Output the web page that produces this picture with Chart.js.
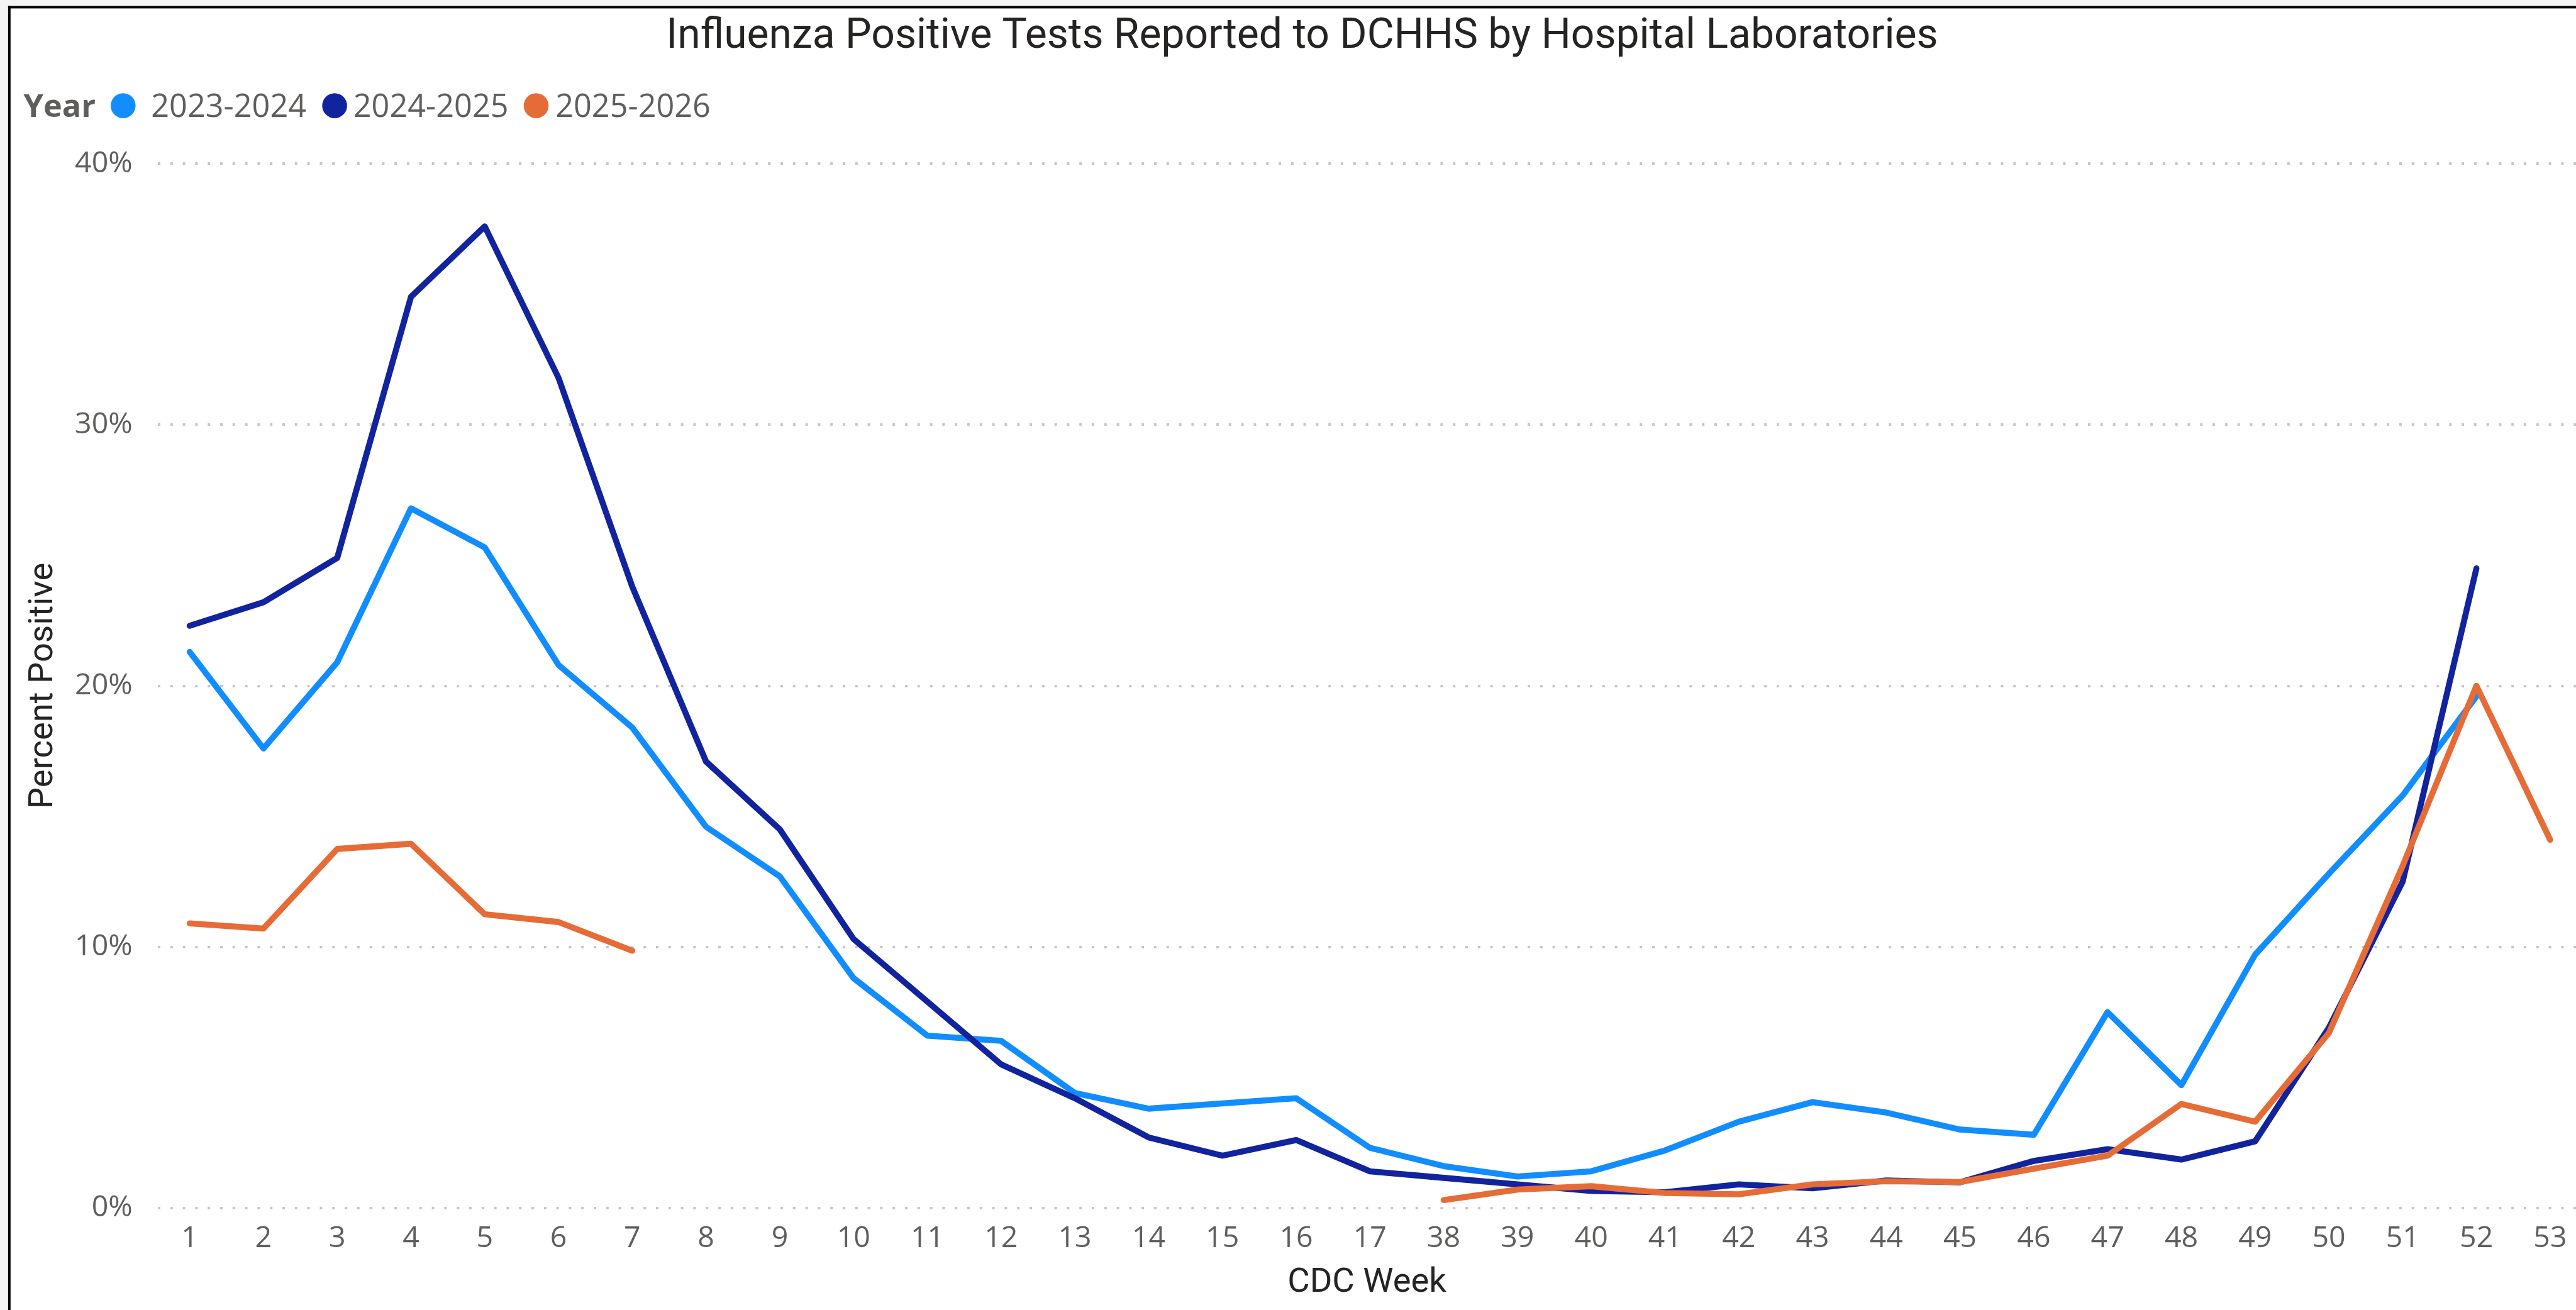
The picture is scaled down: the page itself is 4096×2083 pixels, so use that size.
<!DOCTYPE html>
<html>
<head>
<meta charset="utf-8">
<title>Influenza Positive Tests</title>
<script src="https://cdn.jsdelivr.net/npm/chart.js@4.4.1/dist/chart.umd.min.js"></script>
<style>
    html, body { margin: 0; padding: 0; background: #ffffff; overflow: hidden; }
    #wrap { width: 4096px; height: 2083px; }
</style>
</head>
<body>
<div id="wrap"><canvas id="flu_chart" width="4096" height="2083"></canvas></div>
<script>
// CDC weeks shown on the x axis (18-37 are not in the report)
const weeks = [
    "1", "2", "3", "4", "5", "6", "7", "8", "9", "10", "11", "12", "13", "14", "15", "16", "17",
    "38", "39", "40", "41", "42", "43", "44", "45", "46", "47", "48", "49", "50", "51", "52", "53"
];

// percent positive per season, one value per week above (null = no data)
const season_2023_2024 = [
    21.3, 17.6, 20.9, 26.8, 25.3, 20.8, 18.4, 14.6, 12.7, 8.8, 6.6, 6.4, 4.4, 3.8, 4.0, 4.2, 2.3,
    1.6, 1.2, 1.4, 2.2, 3.3, 4.05, 3.65, 3.0, 2.8, 7.5, 4.7, 9.7, 12.8, 15.8, 19.6, null
];
const season_2024_2025 = [
    22.3, 23.2, 24.9, 34.9, 37.6, 31.8, 23.8, 17.1, 14.5, 10.3, 7.9, 5.5, 4.2, 2.7, 2.0, 2.6, 1.4,
    1.15, 0.9, 0.65, 0.6, 0.9, 0.75, 1.05, 0.98, 1.8, 2.25, 1.85, 2.55, 6.9, 12.5, 24.5, null
];
const season_2025_2026 = [
    10.9, 10.7, 13.75, 13.95, 11.25, 10.95, 9.85, null, null, null, null, null, null, null, null, null, null,
    0.3, 0.7, 0.83, 0.57, 0.52, 0.9, 1.02, 0.99, 1.5, 2.0, 3.98, 3.3, 6.7, 13.1, 20.0, 14.1
];

const season_names = ["2023-2024", "2024-2025", "2025-2026"];
const season_colors = ["#118DFF", "#12239E", "#E66C37"];
const season_values = [season_2023_2024, season_2024_2025, season_2025_2026];

const ui_font = "'Segoe UI', 'Open Sans', sans-serif";
const title_font = "Roboto, 'Segoe UI', sans-serif";

function $$(x) {
    return document.getElementById(x);
}

// border, title and the "Year" legend are drawn by hand (Power BI look)
const frame_plugin = {
    id: "frame",
    beforeDraw(chart) {
        const ctx = chart.ctx;
        ctx.save();
        ctx.fillStyle = "#F4F4F4";
        ctx.fillRect(0, 0, chart.width, chart.height);
        ctx.fillStyle = "#FFFFFF";
        ctx.fillRect(16.8, 13.4, chart.width, chart.height);
        ctx.fillStyle = "#000000";
        ctx.fillRect(12.9, 9.4, 3.9, chart.height);
        ctx.fillRect(12.9, 9.4, chart.width, 4);
        ctx.restore();
    },
    afterDraw(chart) {
        const ctx = chart.ctx;
        ctx.save();
        ctx.fillStyle = "#252423";
        ctx.font = "normal 66px " + title_font;
        ctx.textAlign = "center";
        ctx.textBaseline = "alphabetic";
        ctx.fillText("Influenza Positive Tests Reported to DCHHS by Hospital Laboratories", 2070.5, 76.4);

        // legend
        const base_y = 185.9;
        ctx.textAlign = "left";
        ctx.fillStyle = "#605E5C";
        ctx.font = "bold 50.4px " + ui_font;
        ctx.fillText("Year", 37.6, base_y);
        const dot_x = [195.8, 532.1, 852.5];
        const text_x = [240.3, 561.8, 883.2];
        ctx.font = "normal 50.4px " + ui_font;
        chart.data.datasets.forEach((ds, i) => {
            ctx.fillStyle = ds.borderColor;
            ctx.beginPath();
            ctx.arc(dot_x[i], 168.1, 19.8, 0, Math.PI * 2);
            ctx.fill();
            ctx.fillStyle = "#605E5C";
            ctx.fillText(ds.label, text_x[i], base_y);
        });
        ctx.restore();
    }
};

const datasets = season_names.map((name, s) => ({
    label: name,
    data: weeks.map((_, i) => ({ x: i, y: season_values[s][i] })),
    borderColor: season_colors[s],
    backgroundColor: season_colors[s],
    borderWidth: 9.6,
    borderCapStyle: "round",
    borderJoinStyle: "round",
    pointRadius: 0,
    tension: 0,
    spanGaps: false,
    order: 3 - s, // orange on top, light blue at the bottom
}));

Chart.defaults.devicePixelRatio = 1;

const flu_chart = new Chart($$("flu_chart").getContext("2d"), {
    type: "line",
    data: { datasets: datasets },
    options: {
        responsive: false,
        animation: false,
        devicePixelRatio: 1,
        layout: { padding: { top: 260.4, left: 0, right: 0, bottom: 0 } },
        plugins: {
            legend: { display: false },
            title: { display: false },
            tooltip: { enabled: false },
        },
        scales: {
            x: {
                type: "linear",
                min: -0.4297,
                max: 32.35,
                afterBuildTicks: (scale) => {
                    scale.ticks = weeks.map((_, i) => ({ value: i }));
                },
                afterFit: (scale) => {
                    scale.height = 162.4;
                },
                grid: { display: false },
                border: { display: false },
                ticks: {
                    autoSkip: false,
                    maxRotation: 0,
                    minRotation: 0,
                    padding: 13,
                    color: "#605E5C",
                    font: { family: ui_font, size: 46.5, lineHeight: 1.2 },
                    callback: (v) => weeks[v],
                },
                title: {
                    display: true,
                    text: "CDC Week",
                    color: "#252423",
                    font: { family: title_font, size: 54.4, lineHeight: 1.2 },
                    padding: { top: 0, bottom: 10.4 },
                },
            },
            y: {
                min: 0,
                max: 40,
                afterFit: (scale) => {
                    scale.width = 251.2;
                },
                grid: { color: "#C8C6C4", lineWidth: 4, drawTicks: false },
                border: { display: false, dash: [4, 15.8] },
                ticks: {
                    stepSize: 10,
                    padding: 40.5,
                    color: "#605E5C",
                    font: { family: ui_font, size: 46.5, lineHeight: 1.2 },
                    callback: (v) => v + "%",
                },
                title: {
                    display: true,
                    text: "Percent Positive",
                    color: "#252423",
                    font: { family: title_font, size: 54.4, lineHeight: 1.2 },
                    padding: { top: 36.6, bottom: 0 },
                },
            },
        },
    },
    plugins: [frame_plugin],
});
</script>
</body>
</html>
